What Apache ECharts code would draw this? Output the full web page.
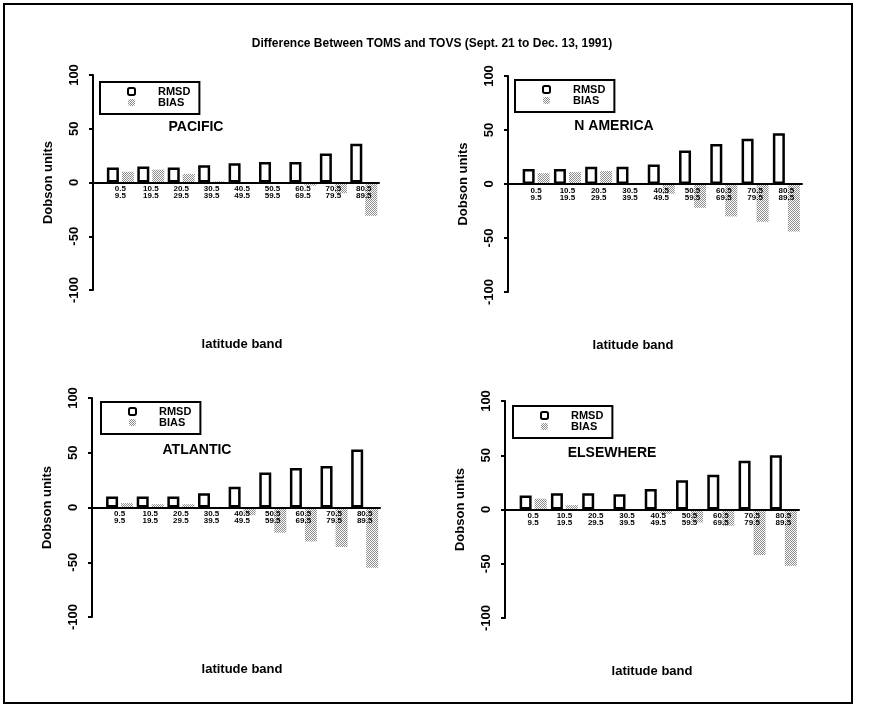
<!DOCTYPE html>
<html>
<head>
<meta charset="utf-8">
<script src="https://cdn.jsdelivr.net/npm/echarts@6/dist/echarts.min.js"></script>
<style>
html,body{margin:0;padding:0;background:#fff;}
#chart{width:876px;height:720px;}
</style>
</head>
<body>
<div id="chart"></div>
<script>
// ---- data ----
const bandLabels = ['0.5\n9.5','10.5\n19.5','20.5\n29.5','30.5\n39.5','40.5\n49.5','50.5\n59.5','60.5\n69.5','70.5\n79.5','80.5\n89.5'];
const regionNames = ['PACIFIC','N AMERICA','ATLANTIC','ELSEWHERE'];
const pacificRMSD   = [14, 15, 14, 16, 18, 19, 19, 27, 36];
const pacificBIAS   = [10, 12, 8, 1, 0, -1, -3, -10, -31];
const namericaRMSD  = [14, 14, 16, 16, 18, 31, 37, 42, 47];
const namericaBIAS  = [10, 11, 12, 1, -9, -22, -30, -35, -44];
const atlanticRMSD  = [10, 10, 10, 13, 19, 32, 36, 38, 53];
const atlanticBIAS  = [4, 3, 3, 0, -7, -23, -31, -36, -55];
const elsewhereRMSD = [13, 15, 15, 14, 19, 27, 32, 45, 50];
const elsewhereBIAS = [10, 4, 0, 0, -4, -12, -15, -42, -52];
const yTicks = [-100, -50, 0, 50, 100];
const mainTitle = 'Difference Between TOMS and TOVS (Sept. 21 to Dec. 13, 1991)';
const yName = 'Dobson units';
const xName = 'latitude band';

// ---- layout (positions / sizes only) ----
const layout = [
  {left:93,  top:75,  width:286, height:215, legend:[100,82],  title:[196,120], namePad:[0,0,0,12]},
  {left:508, top:76,  width:294, height:216, legend:[515,80],  title:[614,119], namePad:[0,44,0,0]},
  {left:92,  top:398, width:288, height:219, legend:[101,402], title:[197,443], namePad:[0,0,0,12]},
  {left:505, top:401, width:294, height:217, legend:[513,406], title:[612,446], namePad:[0,0,0,0]}
];
const rmsdSets = [pacificRMSD, namericaRMSD, atlanticRMSD, elsewhereRMSD];
const biasSets = [pacificBIAS, namericaBIAS, atlanticBIAS, elsewhereBIAS];

// stipple pattern for BIAS bars
const pc = document.createElement('canvas');
pc.width = 2; pc.height = 2;
const pctx = pc.getContext('2d');
pctx.fillStyle = '#ffffff'; pctx.fillRect(0,0,2,2);
pctx.fillStyle = '#8c8c8c'; pctx.fillRect(0,0,1,1); pctx.fillRect(1,1,1,1);
const stipple = {image: pc, repeat: 'repeat'};

const FONT = '"Liberation Sans", Arial, Helvetica, sans-serif';
const NARROW = '"Liberation Sans Narrow", "Liberation Sans", Arial, sans-serif';

const grids = [], xAxes = [], yAxes = [], series = [], legends = [], titles = [];
titles.push({text: mainTitle, left: 432, top: 38, textAlign: 'center', padding: 0,
  textStyle: {fontFamily: FONT, fontSize: 12, fontWeight: 'bold', color: '#000'}});

layout.forEach((L, i) => {
  grids.push({left: L.left, top: L.top, width: L.width, height: L.height,
    containLabel: false, outerBoundsMode: 'none'});
  xAxes.push({
    type: 'value', gridIndex: i, min: -0.9, max: 8.5, z: 5,
    position: 'bottom', offset: -L.height / 2,   // axis sits on the zero line (y range is symmetric)
    name: xName, nameLocation: 'middle', nameGap: 155,
    nameTextStyle: {fontFamily: FONT, fontSize: 13, fontWeight: 'bold', color: '#000', padding: L.namePad},
    axisLine: {show: true, onZero: false, lineStyle: {color: '#000', width: 2}},
    axisTick: {show: false},
    splitLine: {show: false},
    axisLabel: {
      customValues: bandLabels.map((_, k) => k),
      formatter: v => bandLabels[Math.round(v)] || '',
      fontFamily: NARROW, fontSize: 8, fontWeight: 'bold', lineHeight: 7, color: '#000', margin: 3
    }
  });
  yAxes.push({
    type: 'value', gridIndex: i, min: yTicks[0], max: yTicks[yTicks.length-1], interval: 50,
    name: yName, nameLocation: 'middle', nameGap: 38,
    nameTextStyle: {fontFamily: FONT, fontSize: 13, fontWeight: 'bold', color: '#000'},
    axisLine: {show: true, onZero: false, lineStyle: {color: '#000', width: 2}},
    axisTick: {show: true, length: 4, lineStyle: {color: '#000', width: 2}},
    splitLine: {show: false},
    axisLabel: {rotate: 90, margin: 12, fontFamily: FONT, fontSize: 13, fontWeight: 'bold', color: '#000'}
  });
  series.push({
    name: 'RMSD', type: 'bar', xAxisIndex: i, yAxisIndex: i,
    data: rmsdSets[i].map((v, k) => [k, v]),
    barWidth: 12, barGap: '25%',
    itemStyle: {color: '#fff', borderColor: '#000', borderWidth: 2.5},
    emphasis: {disabled: true}, animation: false
  });
  series.push({
    name: 'BIAS', type: 'bar', xAxisIndex: i, yAxisIndex: i,
    data: biasSets[i].map((v, k) => [k, v]),
    barWidth: 12, barGap: '25%',
    itemStyle: {color: stipple, borderWidth: 0},
    emphasis: {disabled: true}, animation: false
  });
  legends.push({
    data: ['RMSD', 'BIAS'], left: L.legend[0], top: L.legend[1], orient: 'vertical',
    itemGap: 0, itemWidth: 7, itemHeight: 7, padding: [4, 9, 6, 27],
    borderColor: '#000', borderWidth: 2, selectedMode: false,
    textStyle: {fontFamily: FONT, fontSize: 11, fontWeight: 'bold', color: '#000', lineHeight: 11, padding: [0,0,0,18]}
  });
  titles.push({text: regionNames[i], left: L.title[0], top: L.title[1], textAlign: 'center', padding: 0,
    textStyle: {fontFamily: FONT, fontSize: 14, fontWeight: 'bold', color: '#000'}});
});

const chart = echarts.init(document.getElementById('chart'), null, {renderer: 'canvas'});
chart.setOption({
  backgroundColor: '#fff',
  animation: false,
  title: titles,
  grid: grids,
  xAxis: xAxes,
  yAxis: yAxes,
  legend: legends,
  series: series,
  graphic: [{type: 'rect', shape: {x: 4, y: 4, width: 848, height: 699},
    style: {fill: 'none', stroke: '#000', lineWidth: 2}, silent: true}]
});
</script>
</body>
</html>
